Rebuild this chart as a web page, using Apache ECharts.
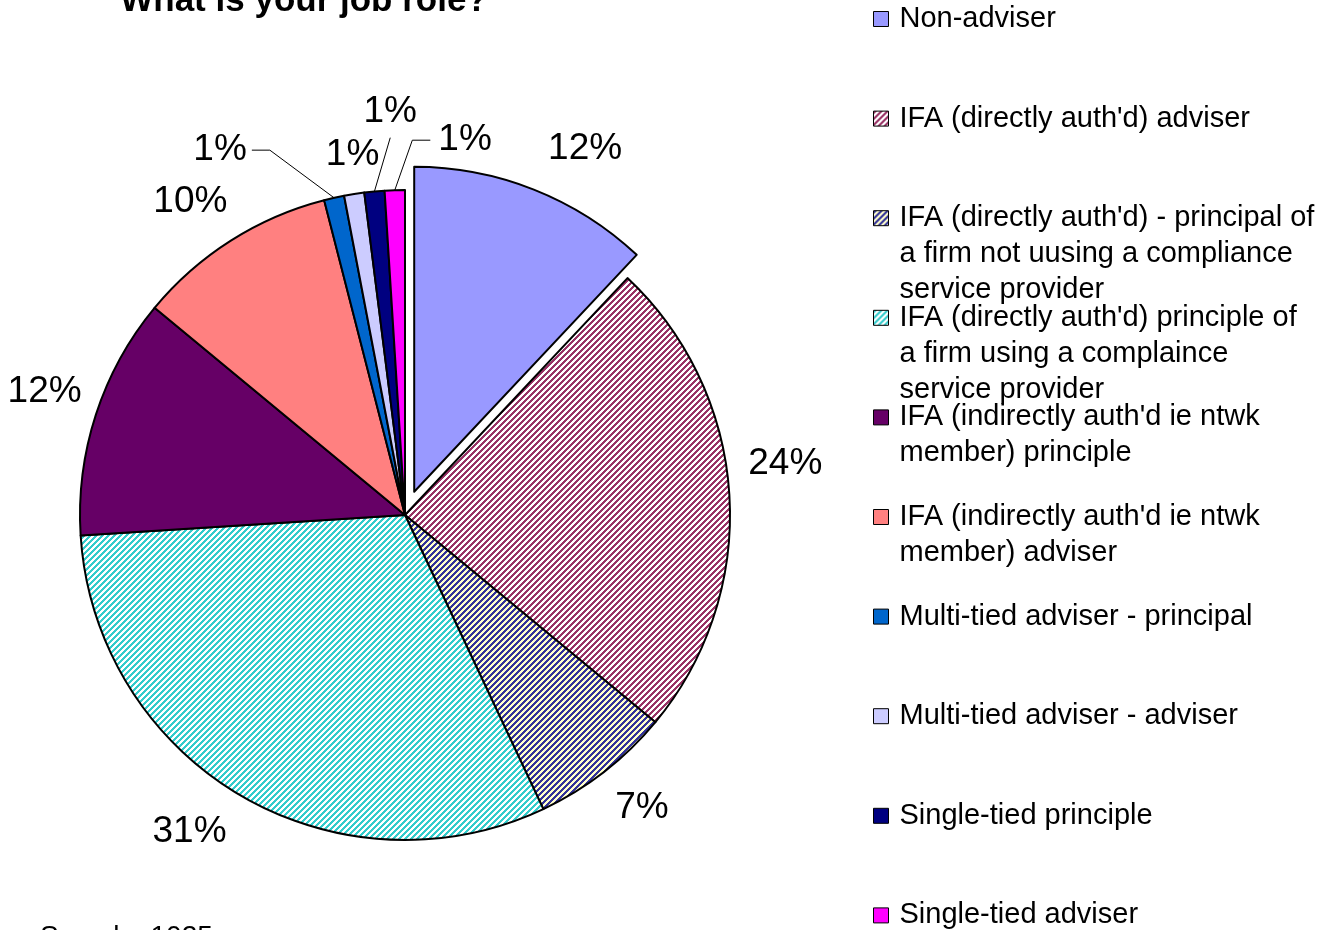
<!DOCTYPE html>
<html>
<head>
<meta charset="utf-8">
<script src="https://cdn.jsdelivr.net/npm/echarts@6/dist/echarts.min.js"></script>
<style>
  html, body { margin: 0; padding: 0; background: #ffffff; }
  #chart { width: 1319px; height: 930px; }
</style>
</head>
<body>
<div id="chart"></div>
<script>
// Job role categories (legend text wraps at the explicit line breaks)
const categories = [
  "Non-adviser",
  "IFA (directly auth'd) adviser",
  "IFA (directly auth'd) - principal of\na firm not uusing a compliance\nservice provider",
  "IFA (directly auth'd) principle of\na firm using a complaince\nservice provider",
  "IFA (indirectly auth'd ie ntwk\nmember) principle",
  "IFA (indirectly auth'd ie ntwk\nmember) adviser",
  "Multi-tied adviser - principal",
  "Multi-tied adviser - adviser",
  "Single-tied principle",
  "Single-tied adviser"
];
// Share of respondents, percent
const shares = [12, 24, 7, 31, 12, 10, 1, 1, 1, 1];

const titleText = "What is your job role?";
const sampleText = "Sample: 1025";

// ---- styling ----
const FONT = "'Liberation Sans', Arial, Helvetica, sans-serif";
const fills = [
  { solid: '#9999FF' },
  { stripe: '#993366', ground: '#FFFFFF' },
  { stripe: '#333399', ground: '#FFFFCC' },
  { stripe: '#33CCCC', ground: '#FFFFFF' },
  { solid: '#660066' },
  { solid: '#FF8080' },
  { solid: '#0066CC' },
  { solid: '#CCCCFF' },
  { solid: '#000080' },
  { solid: '#FF00FF' }
];

// Wide upward-diagonal hatch tile
function stripePattern(stripe, ground) {
  const n = 6;
  const c = document.createElement('canvas');
  c.width = n; c.height = n;
  const g = c.getContext('2d');
  g.fillStyle = ground;
  g.fillRect(0, 0, n, n);
  g.fillStyle = stripe;
  for (let y = 0; y < n; y++) {
    for (let x = 0; x < n; x++) {
      if ((x + y) % n < 3) g.fillRect(x, y, 1, 1);
    }
  }
  return { image: c, repeat: 'repeat' };
}
function fillFor(f) {
  return f.solid ? f.solid : stripePattern(f.stripe, f.ground);
}

// ---- legend layout: each entry is padded to a 5-line block whose middle
// line is the entry's first line, so the marker sits beside that line and
// the rows stay evenly spaced whatever their line count ----
const LEGEND_LINES = 5, LEGEND_LH = 36, LEGEND_ROW = 99.6;
const LEGEND_BOX = LEGEND_LINES * LEGEND_LH;
const LEGEND_LEAD = (LEGEND_LINES - 1) / 2;

// ---- pie geometry ----
const CX = 405, CY = 515, R = 325, PULL = 25, LABEL_R = 380;
// label nudges (px) from the default spot on each slice's bisector
const labelNudge = [[31, 10], [1, -27], [4, -7], [-22, -10], [1, -6], [-11, 8], [-102, 6], [7, 15], [21, -25], [72, 5]];
// leader-line style for the thin slices: which side of the label the line meets
const leader = [null, null, null, null, null, null, 'right', null, 'below', 'left'];
// the first slice is pulled out of the pie
const PULLED = 0;

const total = shares.reduce((a, b) => a + b, 0);
const mids = [];
(function () {
  let acc = 0;
  shares.forEach(v => { mids.push((acc + v / 2) / total * 360); acc += v; });
})();
function polar(cx, cy, d, deg) {
  const a = deg * Math.PI / 180;
  return [cx + d * Math.sin(a), cy - d * Math.cos(a)];
}
const pulledCenter = polar(CX, CY, PULL, mids[PULLED]);

const hidden = {
  itemStyle: { color: 'rgba(0,0,0,0)', borderWidth: 0 },
  label: { show: false },
  labelLine: { show: false }
};

// main pie: every slice, the pulled one left empty in place
const pieData = categories.map((name, i) => {
  if (i === PULLED) return Object.assign({ name: name, value: shares[i] }, hidden);
  const item = { name: name, value: shares[i], itemStyle: { color: fillFor(fills[i]) } };
  if (leader[i]) item.labelLine = { show: true };
  return item;
});
// pulled slice, drawn on its own shifted centre
const pulledData = [
  { name: categories[PULLED], value: shares[PULLED], itemStyle: { color: fillFor(fills[PULLED]) } },
  Object.assign({ name: '', value: total - shares[PULLED] }, hidden)
];

function labelLayoutFor(center, toCategory) {
  return function (p) {
    const i = toCategory(p.dataIndex);
    if (i == null) return;
    const m = mids[i];
    const base = polar(center[0], center[1], LABEL_R, m);
    const x = base[0] + labelNudge[i][0];
    const y = base[1] + labelNudge[i][1];
    const out = { x: x, y: y, align: 'center', verticalAlign: 'middle' };
    const w = p.labelRect.width;
    const arc = polar(center[0], center[1], R, m);
    if (leader[i] === 'right') {
      const end = [x + w / 2 + 5, y];
      out.labelLinePoints = [arc, [end[0] + 18, y], end];
    } else if (leader[i] === 'left') {
      const end = [x - w / 2 - 8, y];
      out.labelLinePoints = [arc, [end[0] - 18, y], end];
    } else if (leader[i] === 'below') {
      const end = [x, y + 26];
      out.labelLinePoints = [arc, end, end];
    }
    return out;
  };
}

const pieCommon = {
  type: 'pie',
  radius: [0, R],
  startAngle: 90,
  clockwise: true,
  selectedMode: false,
  avoidLabelOverlap: false,
  emphasis: { disabled: true },
  itemStyle: { borderColor: '#000000', borderWidth: 2 },
  label: {
    show: true,
    position: 'outside',
    formatter: '{c}%',
    fontFamily: FONT,
    fontSize: 37,
    color: '#000000'
  },
  labelLine: {
    show: false,
    lineStyle: { color: '#000000', width: 1 }
  }
};

const chart = echarts.init(document.getElementById('chart'), null, { renderer: 'canvas' });

chart.setOption({
  animation: false,
  backgroundColor: '#ffffff',
  title: {
    text: titleText,
    left: 299,
    top: -22,
    textAlign: 'center',
    textVerticalAlign: 'top',
    textStyle: { fontFamily: FONT, fontSize: 35, fontWeight: 'bold', color: '#000000', lineHeight: 36 }
  },
  legend: {
    orient: 'vertical',
    left: 873,
    top: 19 - LEGEND_BOX / 2,
    height: 2000,
    padding: 0,
    itemWidth: 15,
    itemHeight: 15,
    itemGap: LEGEND_ROW - LEGEND_BOX,
    icon: 'rect',
    selectedMode: false,
    itemStyle: { borderColor: '#000000', borderWidth: 1 },
    formatter: function (name) {
      const n = name.split('\n').length;
      return '\n'.repeat(LEGEND_LEAD) + name + '\n'.repeat(LEGEND_LINES - LEGEND_LEAD - n);
    },
    textStyle: {
      fontFamily: FONT, fontSize: 29, color: '#000000',
      lineHeight: LEGEND_LH,
      padding: [0, 0, 0, 6]
    },
    data: categories
  },
  graphic: [{
    type: 'text',
    left: 40,
    top: 923,
    style: { text: sampleText, font: '28px ' + FONT, fill: '#000000' }
  }],
  series: [
    Object.assign({}, pieCommon, {
      name: 'pulled',
      center: pulledCenter,
      labelLayout: labelLayoutFor(pulledCenter, idx => (idx === 0 ? PULLED : null)),
      data: pulledData
    }),
    Object.assign({}, pieCommon, {
      name: 'roles',
      center: [CX, CY],
      labelLayout: labelLayoutFor([CX, CY], idx => (idx === PULLED ? null : idx)),
      data: pieData
    })
  ]
});
</script>
</body>
</html>
